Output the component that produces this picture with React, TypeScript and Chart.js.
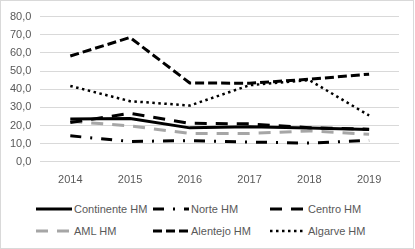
import React, { useEffect, useRef } from "react";
import { Chart, registerables } from "chart.js";

Chart.register(...registerables);

const years = ["2014", "2015", "2016", "2017", "2018", "2019"];
const continente = [23.6, 23.8, 18.7, 19.3, 18.6, 17.8];
const norte = [14.3, 11.2, 11.7, 10.9, 10.3, 11.8];
const centro = [21.6, 26.7, 21.2, 20.9, 18.8, 18.0];
const aml = [22.3, 19.8, 15.6, 15.6, 17.0, 15.2];
const alentejo = [58.3, 68.5, 43.4, 43.3, 45.5, 48.3];
const algarve = [41.8, 33.4, 31.0, 42.2, 45.0, 25.5];

const seriesNames = ["Continente HM", "Norte HM", "Centro HM", "AML HM", "Alentejo HM", "Algarve HM"];
const seriesData = [continente, norte, centro, aml, alentejo, algarve];
const seriesColors = ["#000000", "#000000", "#000000", "#a6a6a6", "#000000", "#000000"];
const seriesDash: number[][] = [[], [11, 9, 2, 9], [12, 9], [12, 9], [9, 4], [2.5, 3.5]];
const seriesWidth = [3, 3, 3, 3, 3, 2.5];

const FONT = "'Liberation Sans', Arial, sans-serif";
const TEXT = "#595959";
const GRID = "#d9d9d9";

export default function App() {
  const ref = useRef<HTMLCanvasElement | null>(null);
  useEffect(() => {
    if (!ref.current) return;
    const chart = new Chart(ref.current, {
      type: "line",
      data: {
        labels: years,
        datasets: seriesNames.map((n, i) => ({
          label: n,
          data: seriesData[i],
          borderColor: seriesColors[i],
          backgroundColor: seriesColors[i],
          borderDash: seriesDash[i],
          borderWidth: seriesWidth[i],
          borderCapStyle: "butt" as const,
          borderJoinStyle: "round" as const,
          pointRadius: 0,
          tension: 0,
          fill: false,
        })),
      },
      options: {
        animation: false,
        responsive: true,
        maintainAspectRatio: false,
        layout: { padding: { left: 0, right: 14, top: 6, bottom: 0 } },
        plugins: { legend: { display: false }, tooltip: { enabled: false } },
        scales: {
          x: {
            offset: true,
            grid: { display: false, drawTicks: false },
            border: { display: true, color: GRID, width: 1 },
            ticks: { color: TEXT, font: { family: FONT, size: 11 }, padding: 12 },
          },
          y: {
            min: 0,
            max: 80,
            grid: { color: GRID, drawTicks: false, lineWidth: 1 },
            border: { display: false },
            ticks: {
              stepSize: 10,
              color: TEXT,
              font: { family: FONT, size: 11 },
              padding: 9,
              callback: (v: any) => Number(v).toFixed(1).replace(".", ","),
            },
          },
        },
      },
    });
    return () => chart.destroy();
  }, []);

  const cols = [35, 152, 269];
  return (
    <div
      style={{
        position: "absolute",
        left: 0,
        top: 0,
        width: 414,
        height: 249,
        border: `1px solid ${GRID}`,
        boxSizing: "border-box",
        background: "#fff",
        fontFamily: FONT,
      }}
    >
      <div style={{ position: "absolute", left: 0, top: 0, width: 412, height: 198 }}>
        <canvas ref={ref} />
      </div>
      {seriesNames.map((n, i) => {
        const row = Math.floor(i / 3);
        const col = i % 3;
        const top = row === 0 ? 199 : 221;
        return (
          <div
            key={n}
            style={{
              position: "absolute",
              left: cols[col],
              top,
              height: 18,
              display: "flex",
              alignItems: "center",
              whiteSpace: "nowrap",
            }}
          >
            <svg width={36} height={18} style={{ display: "block" }}>
              <line
                x1={0}
                y1={9}
                x2={36}
                y2={9}
                stroke={seriesColors[i]}
                strokeWidth={seriesWidth[i]}
                strokeDasharray={seriesDash[i].length ? seriesDash[i].join(" ") : undefined}
              />
            </svg>
            <span style={{ marginLeft: 2, fontSize: 11, color: TEXT }}>{n}</span>
          </div>
        );
      })}
    </div>
  );
}
